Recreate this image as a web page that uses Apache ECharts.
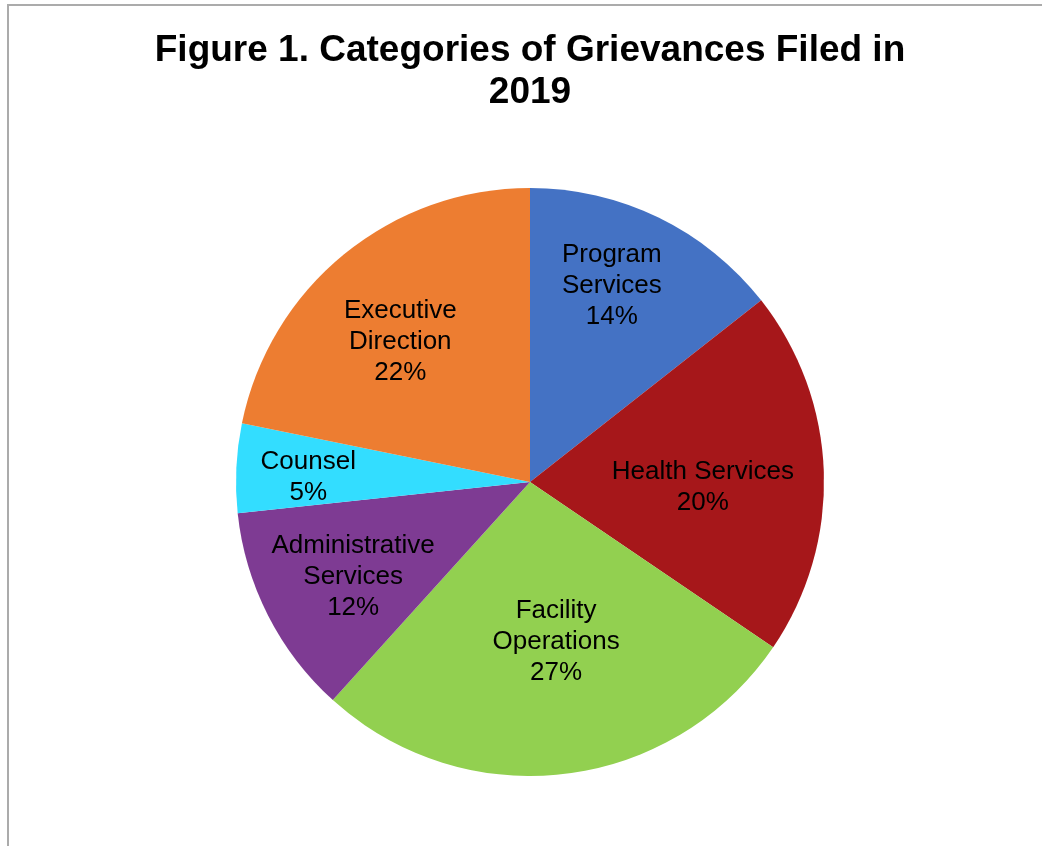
<!DOCTYPE html>
<html lang="en">
<head>
    <meta charset="UTF-8">
    <title>Categories of Grievances Filed in 2019</title>
    <script src="https://cdn.jsdelivr.net/npm/echarts@6/dist/echarts.min.js"></script>
    <style>
        html, body {
            margin: 0;
            padding: 0;
            width: 1042px;
            height: 846px;
            overflow: hidden;
            background: #fff;
        }
        .frame {
            position: absolute;
            left: 7px;
            top: 4px;
            border: 2px solid #ababab;
            width: 1042px;
            height: 860px;
        }
        #charts {
            width: 1042px;
            height: 860px;
        }
    </style>
</head>
<body>
<div class="frame">
    <div id="charts"></div>
</div>

<script>
    var categories = ['Program Services', 'Health Services', 'Facility Operations',
        'Administrative Services', 'Counsel', 'Executive Direction'];
    // label text as it wraps inside the slices
    var labelNames = ['Program\nServices', 'Health Services', 'Facility\nOperations',
        'Administrative\nServices', 'Counsel', 'Executive\nDirection'];
    var values = [14.4, 20.1, 27.2, 11.6, 4.9, 21.8];
    var colors = ['#4472C4', '#A6171A', '#92D050', '#7E3B93', '#33DDFF', '#ED7D31'];
    // nudges so the labels sit where the original puts them
    var labelOffsets = [[-3, -22], [-21, 12], [3, -33], [-4, 7], [-28, 4], [-7, 10]];

    var myChart = echarts.init(document.getElementById('charts'));
    var center = [521, 476];
    var font = 'Liberation Sans, Arial, sans-serif';

    var labelData = [];
    for (var i = 0; i < categories.length; i++) {
        (function (idx) {
            labelData.push({
                value: values[idx],
                name: categories[idx],
                label: {
                    offset: labelOffsets[idx],
                    formatter: function (p) {
                        return labelNames[idx] + '\n' + Math.round(p.percent) + '%';
                    }
                }
            });
        })(i);
    }

    var option = {
        animation: false,
        title: {
            text: 'Figure 1. Categories of Grievances Filed in\n2019',
            left: 'center',
            top: 19,
            textStyle: {
                fontFamily: font,
                fontSize: 37,
                fontWeight: 'bold',
                lineHeight: 42,
                color: '#000'
            }
        },
        series: [
            {
                type: 'pie',
                center: center,
                radius: 294,
                startAngle: 90,
                clockwise: true,
                data: categories.map(function (c, idx) { return {value: values[idx], name: c}; }),
                color: colors,
                label: {show: false},
                labelLine: {show: false},
                itemStyle: {borderWidth: 0},
                emphasis: {disabled: true}
            },
            {
                // transparent ring, only here to carry the labels
                type: 'pie',
                center: center,
                radius: [88, 294],
                startAngle: 90,
                clockwise: true,
                silent: true,
                data: labelData,
                itemStyle: {color: 'rgba(0,0,0,0)', borderWidth: 0},
                label: {
                    show: true,
                    position: 'inside',
                    fontFamily: font,
                    fontSize: 26,
                    lineHeight: 31,
                    color: '#000',
                    align: 'center'
                },
                labelLine: {show: false},
                emphasis: {disabled: true}
            }
        ]
    };
    myChart.setOption(option);
</script>
</body>
</html>
